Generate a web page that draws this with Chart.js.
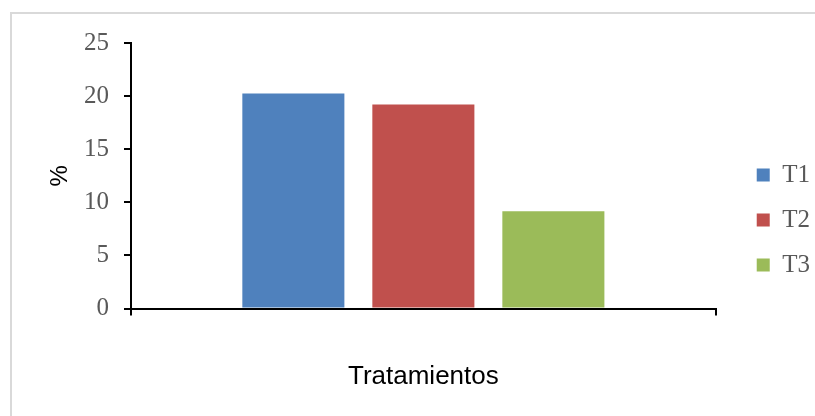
<!DOCTYPE html>
<html>
<head>
<meta charset="utf-8">
<script src="https://cdn.jsdelivr.net/npm/chart.js@4"></script>
<style>
  html, body { margin: 0; padding: 0; background: #fff; }
  #wrap { position: relative; width: 815px; height: 416px; }
  #frame {
    position: absolute; left: 10px; top: 12px; right: 0; bottom: 0;
    border-left: 2px solid #d9d9d9; border-top: 2px solid #d9d9d9;
  }
  canvas { position: absolute; left: 0; top: 0; }
</style>
</head>
<body>
<div id="wrap">
  <div id="frame"></div>
  <canvas id="chart" width="815" height="416"></canvas>
</div>
<script>
const categories = [''];
const seriesNames = ['T1', 'T2', 'T3'];
const t1Values = [20.25];
const t2Values = [19.2];
const t3Values = [9.15];
const yTicks = [0, 5, 10, 15, 20, 25];

const colors = ['#4F81BD', '#C0504D', '#9BBB59'];
const allValues = [t1Values, t2Values, t3Values];

// push the legend a bit away from the plot, like the original
const legendShift = {
  id: 'legendShift',
  afterLayout(chart) {
    chart.legend.left += 21;
    chart.legend.right += 21;
    chart.legend.top += 2;
    chart.legend.bottom += 2;
  },
};

const ctx = document.getElementById('chart');

new Chart(ctx, {
  type: 'bar',
  data: {
    labels: categories,
    datasets: seriesNames.map((name, i) => ({
      label: name,
      data: allValues[i],
      backgroundColor: colors[i],
      borderWidth: 0,
      categoryPercentage: 0.667,
      barPercentage: 0.785,
    })),
  },
  plugins: [legendShift],
  options: {
    responsive: false,
    animation: false,
    layout: {
      padding: { left: 30, top: 43, right: 16, bottom: 23 },
    },
    plugins: {
      tooltip: { enabled: false },
      legend: {
        position: 'right',
        labels: {
          boxWidth: 13,
          boxHeight: 13,
          padding: 20,
          color: '#595959',
          font: { family: 'Liberation Serif', size: 25 },
        },
      },
    },
    scales: {
      x: {
        afterFit: (scale) => { scale.height = 84.5; },
        grid: {
          drawOnChartArea: false,
          color: '#000',
          lineWidth: 2,
          tickLength: 7,
        },
        border: { color: '#000', width: 2 },
        ticks: { display: false },
        title: {
          display: true,
          text: 'Tratamientos',
          color: '#000',
          padding: { top: 0, bottom: 1 },
          font: { family: 'Liberation Sans', size: 26 },
        },
      },
      y: {
        min: 0,
        max: 25,
        afterFit: (scale) => { scale.width = 101; },
        afterBuildTicks: (scale) => {
          scale.ticks = yTicks.map((v) => ({ value: v }));
        },
        grid: {
          drawOnChartArea: false,
          color: '#000',
          lineWidth: 2,
          tickLength: 7,
        },
        border: { color: '#000', width: 2 },
        ticks: {
          padding: 15,
          color: '#595959',
          font: { family: 'Liberation Serif', size: 25 },
        },
        title: {
          display: true,
          text: '%',
          color: '#000',
          padding: { top: 16, bottom: 0 },
          font: { family: 'Liberation Sans', size: 24 },
        },
      },
    },
  },
});
</script>
</body>
</html>
